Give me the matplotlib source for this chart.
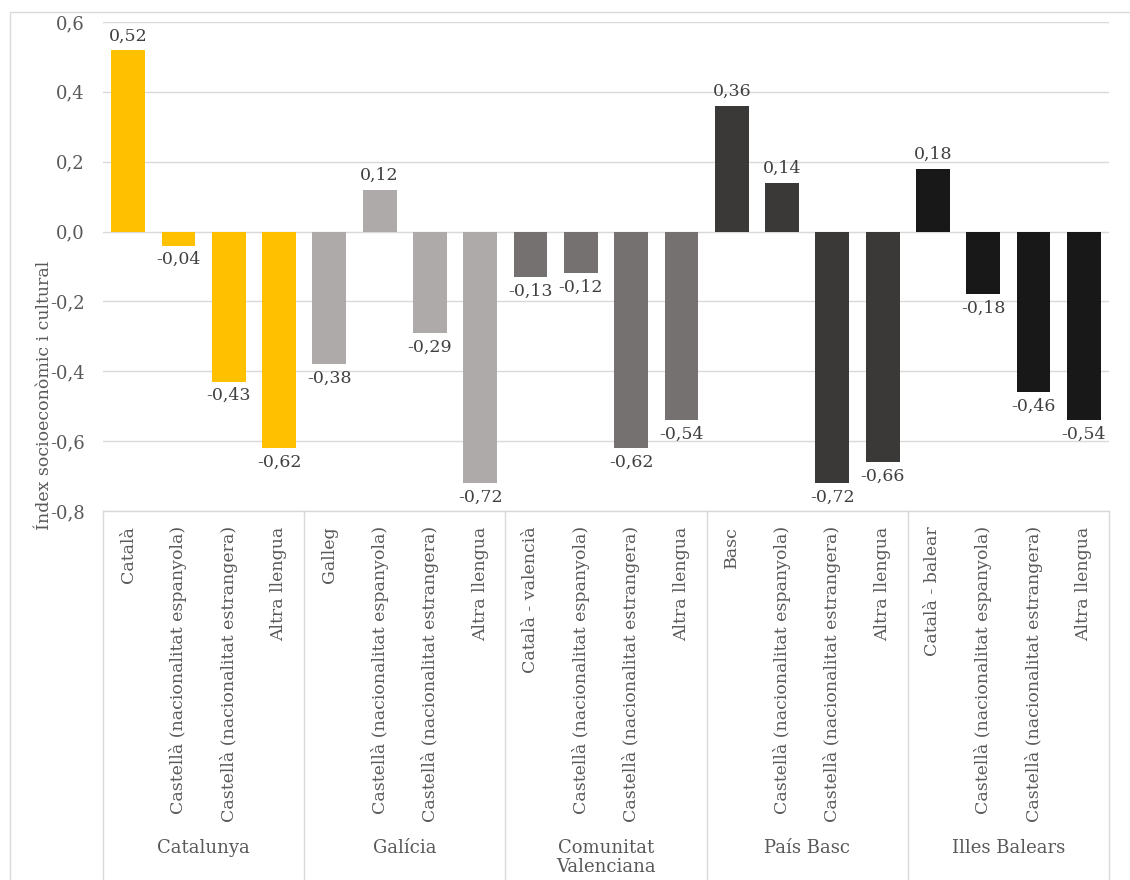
import matplotlib
matplotlib.use('Agg')
import matplotlib.pyplot as plt
import matplotlib.transforms as mtransforms
from matplotlib.patches import Rectangle

plt.rcParams['font.family'] = ['DejaVu Serif']

# dades
regions = ['Catalunya', 'Galícia', 'Comunitat\nValenciana', 'País Basc', 'Illes Balears']
llengues = [
    ['Català', 'Castellà (nacionalitat espanyola)', 'Castellà (nacionalitat estrangera)', 'Altra llengua'],
    ['Galleg', 'Castellà (nacionalitat espanyola)', 'Castellà (nacionalitat estrangera)', 'Altra llengua'],
    ['Català - valencià', 'Castellà (nacionalitat espanyola)', 'Castellà (nacionalitat estrangera)', 'Altra llengua'],
    ['Basc', 'Castellà (nacionalitat espanyola)', 'Castellà (nacionalitat estrangera)', 'Altra llengua'],
    ['Català - balear', 'Castellà (nacionalitat espanyola)', 'Castellà (nacionalitat estrangera)', 'Altra llengua'],
]
valors = [
    [0.52, -0.04, -0.43, -0.62],
    [-0.38, 0.12, -0.29, -0.72],
    [-0.13, -0.12, -0.62, -0.54],
    [0.36, 0.14, -0.72, -0.66],
    [0.18, -0.18, -0.46, -0.54],
]
colors = ['#FFC000', '#AEAAAA', '#767171', '#3B3838', '#181818']
yticks = [-0.8, -0.6, -0.4, -0.2, 0.0, 0.2, 0.4, 0.6]

fig = plt.figure(figsize=(11.3, 8.8), dpi=100)
fig.patches.append(Rectangle((10/1130, -0.01), 1.02, 1 - 12/880 + 0.01,
                             transform=fig.transFigure, fill=False,
                             edgecolor='#D9D9D9', lw=1))
ax = fig.add_axes([103/1130, 1 - 511/880, (1109 - 103)/1130, (511 - 22)/880])

xs = []
labels = []
for g in range(len(regions)):
    x = [g*4 + i for i in range(4)]
    ax.bar(x, valors[g], width=0.67, color=colors[g], zorder=3)
    for xi, v in zip(x, valors[g]):
        txt = f'{v:.2f}'.replace('.', ',')
        if v >= 0:
            ax.annotate(txt, (xi, v), xytext=(0, 4), textcoords='offset points',
                        ha='center', va='bottom', fontsize=12.5, color='#404040')
        else:
            ax.annotate(txt, (xi, v), xytext=(0, -4), textcoords='offset points',
                        ha='center', va='top', fontsize=12.5, color='#404040')
    xs += x
    labels += llengues[g]

ax.set_xlim(-0.5, 19.5)
ax.set_ylim(-0.8, 0.6)
ax.set_yticks(yticks)
ax.set_yticklabels([f'{t:.1f}'.replace('.', ',') for t in yticks])
ax.set_xticks(xs)
ax.set_xticklabels(labels, rotation=90, fontsize=12.5, color='#595959')
ax.tick_params(axis='x', length=0, pad=11)
ax.tick_params(axis='y', length=0, labelsize=13, colors='#595959', pad=13)
ax.grid(axis='y', color='#D9D9D9', lw=1, zorder=0)
for s in ax.spines.values():
    s.set_visible(False)

# taula de categories
trans = mtransforms.blended_transform_factory(ax.transData, ax.transAxes)
for b in [-0.5, 3.5, 7.5, 11.5, 15.5, 19.5]:
    ax.plot([b, b], [0, -0.8], transform=trans, color='#D9D9D9', lw=1, clip_on=False)
ax.plot([-0.5, 19.5], [0, 0], transform=trans, color='#D9D9D9', lw=1, clip_on=False)
for g, r in enumerate(regions):
    ax.text(g*4 + 1.5, -(839 - 511)/489, r, transform=trans, ha='center', va='top',
            fontsize=13, color='#595959', linespacing=1.05)

fig.text(45/1130, 1 - 395/880, 'Índex socioeconòmic i cultural', rotation=90,
         ha='center', va='center', fontsize=12.5, color='#595959')

fig.savefig('out.png', dpi=100)
